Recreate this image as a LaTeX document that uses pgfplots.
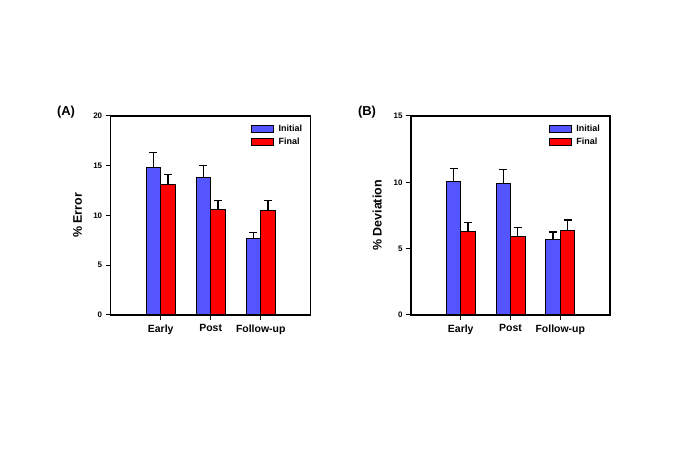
\documentclass[border=0pt]{standalone}
\usepackage{pgfplots}
\pgfplotsset{compat=1.18}
\usepackage{fontspec}
\setmainfont{Liberation Sans}
\definecolor{cblue}{RGB}{85,85,255}
\definecolor{cred}{RGB}{255,0,0}
\pgfplotstableread{
x init initerr fin finerr
1 14.8 1.5 13.1 1.0
2 13.8 1.2 10.6 0.9
3 7.7 0.6 10.5 1.0
}\tableA
\pgfplotstableread{
x init initerr fin finerr
1 10.05 1.0 6.28 0.68
2 9.90 1.05 5.88 0.72
3 5.68 0.57 6.35 0.81
}\tableB
\pgfplotsset{
  panel/.style={
    scale only axis,
    anchor=south west,
    ybar=0pt,
    bar width=14.5bp,
    xmin=0, xmax=4,
    ymin=0,
    xtick={1,2,3},
    xticklabels={Early,Post,Follow-up},
    tick align=outside,
    tick pos=left,
    major tick length=5bp,
    axis line style={line width=1.1bp},
    every tick/.style={line width=1bp, black},
    tick label style={font=\bfseries\fontsize{8}{9}\selectfont},
    xticklabel style={font=\bfseries\fontsize{10.5}{12}\selectfont, yshift=-1bp},
    ylabel style={font=\bfseries\fontsize{12.5}{14}\selectfont},
    /pgf/number format/assume math mode=true,
    legend cell align=left,
    legend image code/.code={\draw[#1, line width=0.8bp] (0bp,-3.3bp) rectangle (22bp,3.3bp);},
    legend style={draw=none, fill=none, anchor=north west, font=\bfseries\fontsize{9}{10}\selectfont,
      row sep=2.5bp, inner sep=0pt,
      nodes={inner sep=1bp},
      /tikz/every odd column/.append style={column sep=4bp}},
    error bars/y dir=plus,
    error bars/y explicit,
    error bars/error bar style={line width=1.2bp, black},
    error bars/error mark options={rotate=90, mark size=4bp, line width=1.2bp, black},
  },
  ibar/.style={fill=cblue, draw=black, line width=1bp},
  fbar/.style={fill=cred, draw=black, line width=1bp},
}
\begin{document}
\begin{tikzpicture}[x=1bp,y=1bp]
\useasboundingbox (0,0) rectangle (685,456);
\begin{axis}[panel, at={(110.7bp,141bp)}, width=200bp, height=199bp,
  ymax=20, ytick={0,5,10,15,20},
  ylabel={\% Error},
  ylabel style={at={(axis description cs:-0.165,0.5)}, anchor=center},
  legend style={at={(axis description cs:0.70,0.96)}}]
\addplot[ibar] table[x=x, y=init, y error=initerr] {\tableA};
\addplot[fbar] table[x=x, y=fin, y error=finerr] {\tableA};
\legend{Initial,Final}
\end{axis}
\node[font=\bfseries\fontsize{13}{15}\selectfont] at (66bp,456bp-112bp) {(A)};
\begin{axis}[panel, at={(411bp,141bp)}, width=199bp, height=199bp,
  ymax=15, ytick={0,5,10,15},
  ylabel={\% Deviation},
  ylabel style={at={(axis description cs:-0.17,0.5)}, anchor=center},
  legend style={at={(axis description cs:0.69,0.96)}}]
\addplot[ibar] table[x=x, y=init, y error=initerr] {\tableB};
\addplot[fbar] table[x=x, y=fin, y error=finerr] {\tableB};
\legend{Initial,Final}
\end{axis}
\node[font=\bfseries\fontsize{13}{15}\selectfont] at (367bp,456bp-112bp) {(B)};
\end{tikzpicture}
\end{document}
